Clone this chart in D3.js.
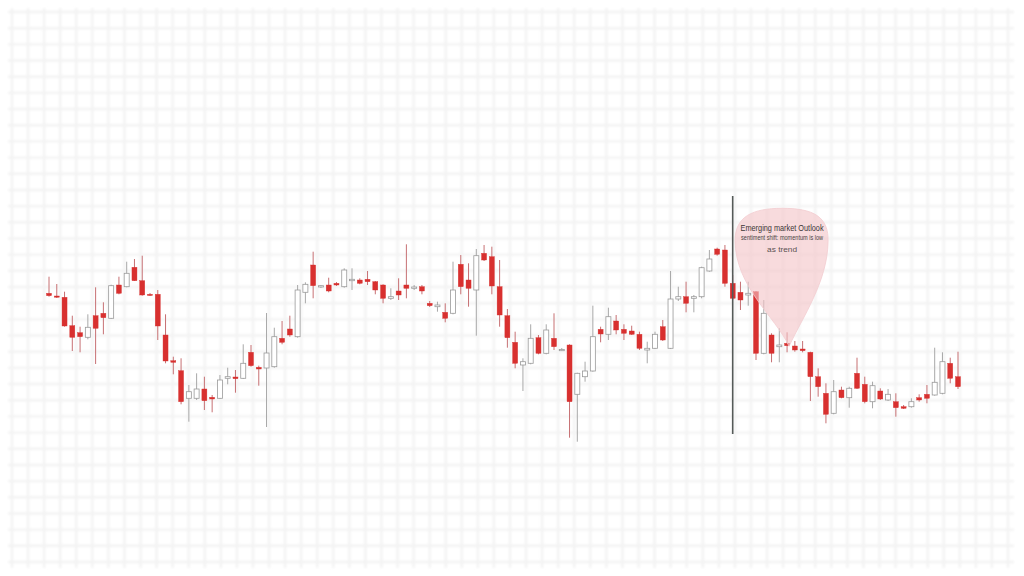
<!DOCTYPE html>
<html>
<head>
<meta charset="utf-8">
<script src="https://cdn.jsdelivr.net/npm/d3@7/dist/d3.min.js"></script>
<style>
  html, body { margin: 0; padding: 0; background: #ffffff; }
  svg { display: block; }
</style>
</head>
<body>
<svg id="chart" width="1024" height="576"></svg>
<script>
// ---- DATA ----
const openP = [306.7,304,302.7,274.3,267.3,262.7,284.3,286.7,281.7,315,313.3,332.7,319.3,305.7,305.7,265,239.3,229.3,201.7,201.7,
  211,202.7,201.7,221.7,223,221.7,247.7,232.7,232,233.3,261.7,271,263.3,307.7,335,313,315,316.7,313.3,319.3,
  320,320.7,318.3,315,301.7,309,315,311.7,313.3,296.7,293.3,287.7,286.7,335.7,320,310,346.7,343.3,313.3,284.3,
  257.7,235,236.7,262.3,246.7,261.7,249.5,255,205.7,223.3,229,270.7,265.7,279,270.7,269,265.7,250,251.7,273.3,
  251.7,301,303.3,301.7,303.3,329,351,350,316.7,307.7,305,308.3,246.7,265,253.3,256.7,254,251,247.7,223.3,
  206.7,186.7,210,202.3,226.7,215.7,198.3,209,200,198.3,193.3,193.3,202.3,205.7,205,206.7,236.7,223.3];
const highP = [323.3,316,308.3,284.3,273.3,285.7,312.7,297.7,315.3,323.3,338.3,341,344.3,307,310,285.7,243.3,241.7,215,226.7,
  223.3,205,225,232.3,230,255.7,255,234.3,287,272.3,279,284.3,315,317.7,348.3,315,322.3,318,331.7,331.7,
  321.7,329,319,315.7,311.7,321.7,355.7,315,315,299,298.3,296.7,338.3,345,336.7,351,355,353.3,340,291,
  268.3,241.7,275.7,265,275.7,286.7,252,255.7,227.3,238.3,294.3,273.3,292.3,285,275.7,274.3,268.3,258.3,268.3,280,
  329,313.3,318.3,305,333.3,350,352.3,355,325,318.3,318.3,309,300,266.7,271.7,267.7,259,259,248.3,231.7,
  216.7,220,213.3,213.3,242.3,223.3,218.3,211.7,211,206.7,195,201.7,205.7,215,252.3,247.7,242.3,248.3];
const lowP = [303.3,302,273.3,249,247.7,260.7,236,265.7,281,305.7,312.7,319,304.3,304,260,236.7,225.7,195.7,178.3,200,
  190,187.7,201,215.7,207.3,221,233.3,214.3,173,232.3,255.7,263.3,262.3,296.7,301.7,312,307.7,314,312.3,310,
  315.7,315,305.7,296.7,300,300,301.7,310,305.7,293,288.3,277.7,285.7,305.7,293.3,264.3,339,305.7,273.3,252.3,
  231.7,209,235.7,245.7,245.7,250,249,162.3,158.3,218.3,228.3,257.7,260,265.7,260,265,250,236.7,251,259,
  251,299,287.7,287.7,301.7,328.3,344.3,313.3,300,290,294.3,240,245.7,237.7,237.7,247.7,248.3,247.7,199,203.3,
  176.7,185.7,201.7,192.3,211,196.7,191.7,200,199,183.3,191,192.3,198.3,196.7,204.3,205.7,216.7,211];
const closeP = [304.3,303,274,262.7,263.3,272.7,271.7,282.3,314.3,306.7,326.7,319.3,305,304.7,274,239,237.7,198.3,208.3,211,
  199.3,201,220,223.3,221.3,236.7,234.3,231,247,263.3,257.7,265,310,315.7,314.3,314.3,309,315,330,320.7,
  316.7,318.3,310,301.7,303.3,305,311.7,313,309,294.3,295,281.7,310,313.3,311.7,344.3,340,314,285,262.3,
  236.7,238.3,261.7,246.7,270,253.3,250.5,198.3,226.7,229,263.3,266,283.3,270,266.7,265.7,251.7,251.7,265.7,260,
  301,303.3,296.7,303.3,332.3,341,345.7,316.7,301.7,300,306.7,246.7,286.7,246.7,255,254.3,250,249.3,223.3,213.3,
  185.7,208.3,202.3,211.7,211.7,198.3,214.3,201,205.7,192.3,191.7,198.3,200,201.7,217.7,238.3,221.7,213.3];
const sessions = d3.range(openP.length);          // candle index (trading sessions)
const markerSession = 88;                          // vertical marker line
const noteSession = 95;                            // candle the note points at
const markerRange = [404, 166];                    // price extent of the vertical marker
const noteLines = ["Emerging market Outlook", "sentiment shift: momentum is low", "as trend"];

// ---- LAYOUT ----
const svg = d3.select("#chart");

const x = d3.scaleLinear().domain([0, sessions.length - 1]).range([49, 958]);
const y = d3.scaleLinear().domain([24, 600]).range([576, 0]);

// blurred faint grid
const defs = svg.append("defs");
defs.append("filter").attr("id", "soft").attr("x", "-5%").attr("y", "-5%").attr("width", "110%").attr("height", "110%")
  .append("feGaussianBlur").attr("stdDeviation", 1.2);

const gx = d3.scaleLinear().domain([0, 62]).range([12, 1008]);
const gy = d3.scaleLinear().domain([0, 34]).range([12, 562]);
const grid = svg.append("g").attr("filter", "url(#soft)");
grid.selectAll("line.v").data(d3.range(0, 63)).join("line")
  .attr("x1", d => gx(d)).attr("x2", d => gx(d)).attr("y1", 8).attr("y2", 568)
  .attr("stroke", "#f3f3f3").attr("stroke-width", 2.4);
grid.selectAll("line.h").data(d3.range(0, 35)).join("line")
  .attr("y1", d => gy(d)).attr("y2", d => gy(d)).attr("x1", 8).attr("x2", 1014)
  .attr("stroke", "#f3f3f3").attr("stroke-width", 2.4);

// candles
const data = sessions.map(i => ({ i, o: openP[i], h: highP[i], l: lowP[i], c: closeP[i] }));
const bw = 5;
const candles = svg.append("g");
const g = candles.selectAll("g").data(data).join("g");
g.append("line")
  .attr("x1", d => x(d.i)).attr("x2", d => x(d.i))
  .attr("y1", d => y(d.h)).attr("y2", d => y(d.l))
  .attr("stroke", d => d.c >= d.o ? "#a8a8a8" : "#c77073")
  .attr("stroke-width", 1);
g.append("rect")
  .attr("x", d => x(d.i) - bw / 2)
  .attr("width", bw)
  .attr("y", d => y(Math.max(d.o, d.c)))
  .attr("height", d => Math.max(1.2, Math.abs(y(d.o) - y(d.c))))
  .attr("fill", d => d.c >= d.o ? "#ffffff" : "#d8302f")
  .attr("stroke", d => d.c >= d.o ? "#9a9a9a" : "#d8302f")
  .attr("stroke-width", d => d.c >= d.o ? 0.8 : 0.4);

// vertical marker
svg.append("line")
  .attr("x1", x(markerSession)).attr("x2", x(markerSession))
  .attr("y1", y(markerRange[0])).attr("y2", y(markerRange[1]))
  .attr("stroke", "#555a58").attr("stroke-width", 1.6);

// note bubble pointing at a candle
const tipX = x(noteSession) + 2, tipY = y(highP[noteSession]) + 14;
const bubble = d3.path();
bubble.moveTo(tipX, tipY);
bubble.bezierCurveTo(tipX - 14, tipY - 30, tipX - 54, tipY - 60, tipX - 54, tipY - 106);
bubble.bezierCurveTo(tipX - 54, tipY - 130, tipX - 36, tipY - 138, tipX - 7, tipY - 138);
bubble.bezierCurveTo(tipX + 24, tipY - 138, tipX + 40, tipY - 130, tipX + 39, tipY - 104);
bubble.bezierCurveTo(tipX + 38, tipY - 64, tipX + 14, tipY - 30, tipX, tipY);
bubble.closePath();
svg.append("path").attr("d", bubble.toString())
  .attr("fill", "#f4c3c7").attr("fill-opacity", 0.6)
  .attr("stroke", "#f3cdd0").attr("stroke-width", 0.8);

const cx = tipX - 7;
const t = svg.append("g").attr("font-family", "Liberation Sans, Arial, sans-serif").attr("text-anchor", "middle");
t.append("text").attr("x", cx).attr("y", tipY - 115).attr("font-size", 8.5)
  .attr("fill", "#3a3535").attr("textLength", 83).attr("lengthAdjust", "spacingAndGlyphs").text(noteLines[0]);
t.append("text").attr("x", cx).attr("y", tipY - 106).attr("font-size", 7.5)
  .attr("fill", "#4a4444").attr("textLength", 82).attr("lengthAdjust", "spacingAndGlyphs").text(noteLines[1]);
t.append("text").attr("x", cx).attr("y", tipY - 94).attr("font-size", 7)
  .attr("fill", "#5a5252").attr("textLength", 30).attr("lengthAdjust", "spacingAndGlyphs").text(noteLines[2]);
</script>
</body>
</html>
